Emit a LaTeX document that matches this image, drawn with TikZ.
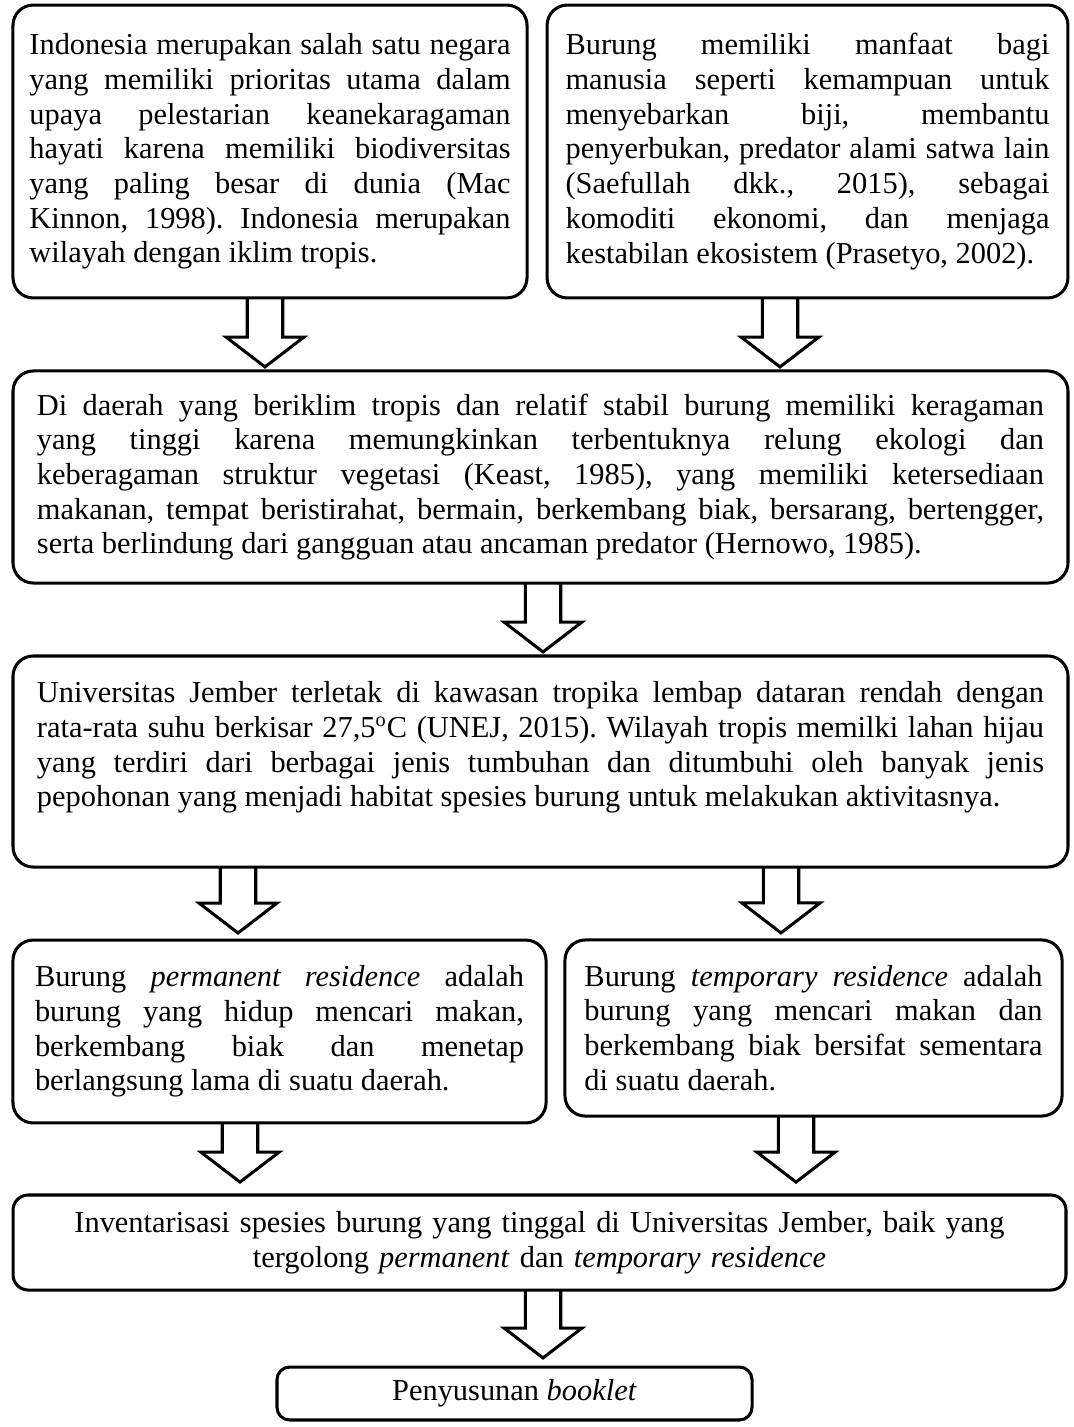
\documentclass[tikz,border=0pt]{standalone}
\usepackage{fontspec}
\setmainfont{Liberation Serif}
\usetikzlibrary{calc}
\hyphenpenalty=10000
\exhyphenpenalty=10000
\hbadness=10000
\frenchspacing

\begin{document}
\begin{tikzpicture}[
  x=0.3947pt, y=-0.3947pt,
  font=\fontsize{12}{13.7}\selectfont,
  box/.style={draw=black, line width=1.2pt, rounded corners=8pt, fill=white,
           outer sep=0pt, inner sep=0pt, align=justify},
  blk/.style={line width=1.2pt, line join=miter, to path={
      let \p1=(\tikztostart), \p2=(\tikztotarget) in
      (\x1-7pt,\y1) -- (\x1-7pt,\y2+11.8pt) -- (\x1-15.4pt,\y2+11.8pt)
      -- (\x1,\y2) -- (\x1+15.4pt,\y2+11.8pt) -- (\x1+7pt,\y2+11.8pt) -- (\x1+7pt,\y1)}}
]
  \useasboundingbox[fill=white] (0,0) rectangle (1074,1427);

  \node[box, minimum width=202.9pt, minimum height=115.6pt, text width=189.9pt] (tropis) at (270,151.5) {
    Indonesia merupakan salah satu negara\linebreak
    yang memiliki prioritas utama dalam\linebreak
    upaya pelestarian keanekaragaman\linebreak
    hayati karena memiliki biodiversitas\linebreak
    yang paling besar di dunia (Mac\linebreak
    Kinnon, 1998). Indonesia merupakan\linebreak
    wilayah dengan iklim tropis.};
  \node[box, minimum width=205.6pt, minimum height=115.6pt, text width=191pt] (manfaat) at (807.5,151.5) {
    Burung memiliki manfaat bagi\linebreak
    manusia seperti kemampuan untuk\linebreak
    menyebarkan biji, membantu\linebreak
    penyerbukan, predator alami satwa lain\linebreak
    (Saefullah dkk., 2015), sebagai\linebreak
    komoditi ekonomi, dan menjaga\linebreak
    kestabilan ekosistem (Prasetyo, 2002).};

  \node[box, minimum width=416.4pt, minimum height=83.7pt, text width=397.5pt] (keragaman) at (540.5,477) {
    Di daerah yang beriklim tropis dan relatif stabil burung memiliki keragaman\linebreak
    yang tinggi karena memungkinkan terbentuknya relung ekologi dan\linebreak
    keberagaman struktur vegetasi (Keast, 1985), yang memiliki ketersediaan\linebreak
    makanan, tempat beristirahat, bermain, berkembang biak, bersarang, bertengger,\linebreak
    serta berlindung dari gangguan atau ancaman predator (Hernowo, 1985).};

  \node[box, minimum width=416.4pt, minimum height=83.3pt, text width=397.5pt] (unej) at (540.5,761.5) {
    Universitas Jember terletak di kawasan tropika lembap dataran rendah dengan\linebreak
    rata-rata suhu berkisar 27,5\textsuperscript{o}C (UNEJ, 2015). Wilayah tropis memilki lahan hijau\linebreak
    yang terdiri dari berbagai jenis tumbuhan dan ditumbuhi oleh banyak jenis\linebreak
    pepohonan yang menjadi habitat spesies burung untuk melakukan aktivitasnya.\\\mbox{}};

  \node[box, minimum width=210.4pt, minimum height=72.2pt, text width=193pt] (permanen) at (279.5,1031.5) {
    Burung \textit{permanent residence} adalah\linebreak
    burung yang hidup mencari makan,\linebreak
    berkembang biak dan menetap\linebreak
    berlangsung lama di suatu daerah.};
  \node[box, minimum width=196.2pt, minimum height=69.5pt, text width=180.8pt] (sementara) at (813.5,1028) {
    Burung \textit{temporary residence} adalah\linebreak
    burung yang mencari makan dan\linebreak
    berkembang biak bersifat sementara\linebreak
    di suatu daerah.};

  \node[box, rounded corners=6pt, align=center, minimum width=415.6pt, minimum height=37.5pt, text width=390pt] (inventaris) at (539.5,1242.5) {
    Inventarisasi spesies burung yang tinggal di Universitas Jember, baik yang\\
    tergolong \textit{permanent} dan \textit{temporary residence}};

  \node[box, rounded corners=5pt, align=center, minimum width=187.5pt, minimum height=20.9pt] (booklet) at (514.5,1393.5) {Penyusunan \textit{booklet}};

  \draw[blk] (265,0 |- tropis.south) to ([yshift=1.6pt]keragaman.north);
  \draw[blk] (780,0 |- manfaat.south) to ([yshift=1.6pt]keragaman.north);
  \draw[blk] (543,0 |- keragaman.south) to ([yshift=1.6pt]unej.north);
  \draw[blk] (238,0 |- unej.south) to ([yshift=2.8pt]permanen.north);
  \draw[blk] (781,0 |- unej.south) to ([yshift=2.8pt]sementara.north);
  \draw[blk] (240,0 |- permanen.south) to ([yshift=5.1pt]inventaris.north);
  \draw[blk] (796,0 |- sementara.south) to ([yshift=5.1pt]inventaris.north);
  \draw[blk] (543,0 |- inventaris.south) to ([yshift=3.6pt]booklet.north);
\end{tikzpicture}
\end{document}
